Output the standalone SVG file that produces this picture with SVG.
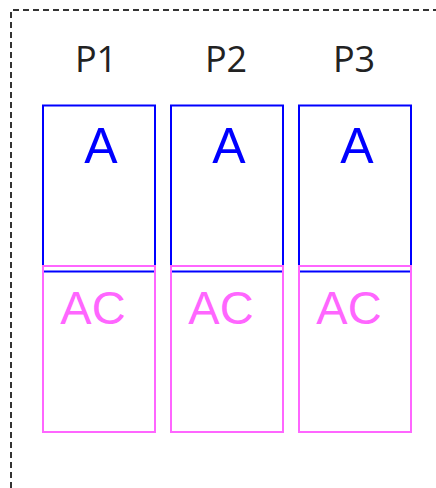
<svg xmlns="http://www.w3.org/2000/svg" width="436" height="488" viewBox="0 0 436 488">
<style>
.frame{fill:none;stroke:#333;stroke-width:2;stroke-dasharray:6,4}
.pl{font-family:"Open Sans","Noto Sans",sans-serif;font-size:36px;fill:#222;text-anchor:middle}
.a{fill:none;stroke:#0000ff;stroke-width:2}
.ac{fill:none;stroke:#ff66ff;stroke-width:2}
.at{font-family:"Liberation Sans",Arial,sans-serif;font-size:50px;fill:#0000ff;text-anchor:middle}
.act{font-family:"Liberation Sans",Arial,sans-serif;font-size:47px;fill:#ff66ff;text-anchor:middle}
</style>
<rect width="436" height="488" fill="#fff"/>
<path class="frame" d="M11,488 V10 H436"/>
<g id="P1">
<text class="pl" x="96" y="72">P1</text>
<rect class="a" x="43" y="105.5" width="112" height="166"/>
<text class="at" x="101" y="163">A</text>
<rect class="ac" x="43" y="266" width="112" height="166"/>
<text class="act" x="93" y="324">AC</text>
</g>
<g id="P2">
<text class="pl" x="226" y="72">P2</text>
<rect class="a" x="171" y="105.5" width="112" height="166"/>
<text class="at" x="229" y="163">A</text>
<rect class="ac" x="171" y="266" width="112" height="166"/>
<text class="act" x="221" y="324">AC</text>
</g>
<g id="P3">
<text class="pl" x="354" y="72">P3</text>
<rect class="a" x="299" y="105.5" width="112" height="166"/>
<text class="at" x="357" y="163">A</text>
<rect class="ac" x="299" y="266" width="112" height="166"/>
<text class="act" x="349" y="324">AC</text>
</g>
<g id="connectors"/>
</svg>
